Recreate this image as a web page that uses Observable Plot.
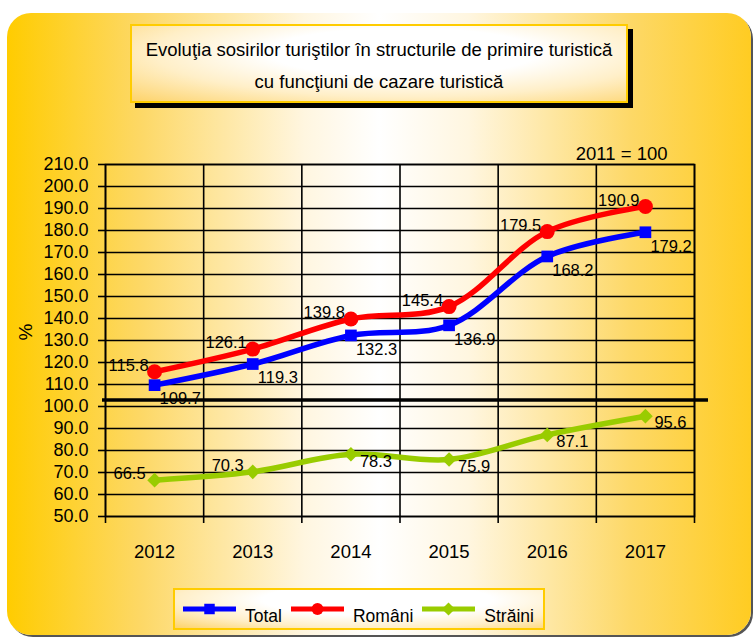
<!DOCTYPE html>
<html>
<head>
<meta charset="utf-8">
<script src="https://cdn.jsdelivr.net/npm/d3@7"></script>
<script src="https://cdn.jsdelivr.net/npm/@observablehq/plot@0.6"></script>
<style>
  html, body { margin: 0; padding: 0; background: #fff; }
  #wrap { position: relative; width: 755px; height: 638px; overflow: hidden;
    font-family: "Liberation Sans", Arial, sans-serif; color: #000; }
  #bg { position: absolute; left: 7px; top: 13px; width: 744px; height: 622px; border-radius: 24px;
    background: linear-gradient(to right, #FFCC00 0%, #FDD866 18%, #FFF6E0 40%, #FFFFFF 50%, #FFF6E0 62%, #FDD866 84%, #FFCC22 100%);
    box-shadow: 2px 2px 0 #555; }
  #title { position: absolute; left: 130px; top: 24px; width: 494px; height: 67px;
    border: 2px solid #FFCC00; box-shadow: 5px 5px 0 #000;
    background: radial-gradient(ellipse at 55% 35%, #FFFFFF 0%, #FFFFFF 35%, #FFEFC8 65%, #FDD36A 100%);
    text-align: center; font-size: 18.5px; line-height: 32px; padding-top: 8px; box-sizing: content-box; white-space: nowrap; }
  #title div { height: 32px; }
  #chart { position: absolute; left: 0; top: 0; }
  #legend { position: absolute; left: 173px; top: 588px; width: 368px; height: 38px;
    border: 2px solid #FFCC00;
    background: radial-gradient(ellipse at 55% 25%, #FFFFFF 0%, #FFFFFF 40%, #FFEFC8 70%, #FDD36A 100%);
    display: flex; align-items: center; font-size: 17.5px; white-space: nowrap; }
  .item { display: flex; align-items: center; }
  .item span { position: relative; top: 7px; margin-left: 9px; margin-right: 9px; }
</style>
</head>
<body>
<div id="wrap">
  <div id="bg"></div>
  <div id="chart"></div>
  <div id="title"><div>Evoluţia sosirilor turiştilor în structurile de primire turistică</div><div>cu funcţiuni de cazare turistică</div></div>
  <div id="legend"></div>
</div>
<script>
// ---- data ----
const years = [2012, 2013, 2014, 2015, 2016, 2017];
const total = [109.7, 119.3, 132.3, 136.9, 168.2, 179.2];
const romani = [115.8, 126.1, 139.8, 145.4, 179.5, 190.9];
const straini = [66.5, 70.3, 78.3, 75.9, 87.1, 95.6];
const seriesNames = ["Total", "Români", "Străini"];
const yTicks = [50, 60, 70, 80, 90, 100, 110, 120, 130, 140, 150, 160, 170, 180, 190, 200, 210];
const yearBoundaries = [2011.5, 2012.5, 2013.5, 2014.5, 2015.5, 2016.5, 2017.5];
const referenceLine = [103];
const baseNote = "2011 = 100";
const yLabel = "%";

// ---- styles ----
const colors = {"Total": "#0000FF", "Români": "#FF0000", "Străini": "#99CC00"};
const symbols = {"Total": "square", "Români": "circle", "Străini": "diamond2"};
const radii = {"Total": 6.6, "Români": 7.5, "Străini": 6.6};

const seriesValues = [total, romani, straini];
const rows = seriesNames.flatMap((s, k) => years.map((year, i) => ({series: s, year, value: seriesValues[k][i], idx: i})));
const bySeries = s => rows.filter(d => d.series === s);
const fmt = d => d.value.toFixed(1);

const font = '"Liberation Sans", Arial, sans-serif';

const marks = [
  Plot.gridY(yTicks, {stroke: "#000", strokeOpacity: 1, strokeWidth: 1.6}),
  Plot.gridX(yearBoundaries, {stroke: "#000", strokeOpacity: 1, strokeWidth: 1.6}),
  Plot.frame({stroke: "#000", strokeWidth: 1.6}),
  Plot.axisY(yTicks, {tickSize: 7, tickPadding: 10, tickFormat: d => d.toFixed(1), label: null, fontSize: 18, strokeWidth: 1.6}),
  Plot.axisX(yearBoundaries, {tickSize: 7, tickFormat: () => "", label: null, strokeWidth: 1.6}),
  Plot.axisX(years, {tickSize: 0, tickPadding: 28, tickFormat: d => String(d), label: null, fontSize: 18.5}),
  Plot.ruleY(referenceLine, {stroke: "#000", strokeWidth: 3.5, insetLeft: -3, insetRight: -14}),
];
for (const s of seriesNames) {
  marks.push(Plot.line(bySeries(s), {x: "year", y: "value", stroke: colors[s], strokeWidth: 5.5, curve: "catmull-rom"}));
}
for (const s of seriesNames) {
  marks.push(Plot.dot(bySeries(s), {x: "year", y: "value", fill: colors[s], symbol: symbols[s], r: radii[s], stroke: null}));
}
marks.push(
  Plot.text(bySeries("Total"), {x: "year", y: "value", text: fmt, textAnchor: "start", dx: 5, dy: 14, fontSize: 16.5}),
  Plot.text(bySeries("Români"), {x: "year", y: "value", text: fmt, textAnchor: "end", dx: -6, dy: -6, fontSize: 16.5}),
  Plot.text(bySeries("Străini").filter(d => d.idx < 2), {x: "year", y: "value", text: fmt, textAnchor: "end", dx: -9, dy: -6, fontSize: 16.5}),
  Plot.text(bySeries("Străini").filter(d => d.idx >= 2), {x: "year", y: "value", text: fmt, textAnchor: "start", dx: 9, dy: 7, fontSize: 16.5}),
  Plot.text([baseNote], {frameAnchor: "top-right", dx: -27, dy: -18, textAnchor: "end", fontSize: 18.5}),
  Plot.text([yLabel], {frameAnchor: "left", dx: -80, rotate: -90, fontSize: 19})
);

const chart = Plot.plot({
  width: 755,
  height: 580,
  marginTop: 164,
  marginLeft: 105,
  marginRight: 61,
  marginBottom: 64,
  style: {background: "transparent", fontFamily: font, fontSize: "18px", color: "#000", overflow: "visible"},
  x: {domain: [2011.5, 2017.5]},
  y: {domain: [50, 210]},
  marks
});
document.getElementById("chart").appendChild(chart);

// ---- legend ----
const legend = document.getElementById("legend");
const legendSymbol = {"Total": d3.symbolSquare, "Români": d3.symbolCircle, "Străini": d3.symbolDiamond2};
seriesNames.forEach((s, k) => {
  const item = document.createElement("div");
  item.className = "item";
  item.style.marginLeft = k === 0 ? "8px" : "0px";
  const svg = d3.create("svg").attr("width", 53).attr("height", 20);
  svg.append("line").attr("x1", 0).attr("x2", 53).attr("y1", 10).attr("y2", 10).attr("stroke", colors[s]).attr("stroke-width", 5);
  svg.append("path").attr("transform", "translate(26.5,10)").attr("d", d3.symbol(legendSymbol[s], 110)()).attr("fill", colors[s]);
  item.appendChild(svg.node());
  const span = document.createElement("span");
  span.textContent = s;
  item.appendChild(span);
  legend.appendChild(item);
});
</script>
</body>
</html>
